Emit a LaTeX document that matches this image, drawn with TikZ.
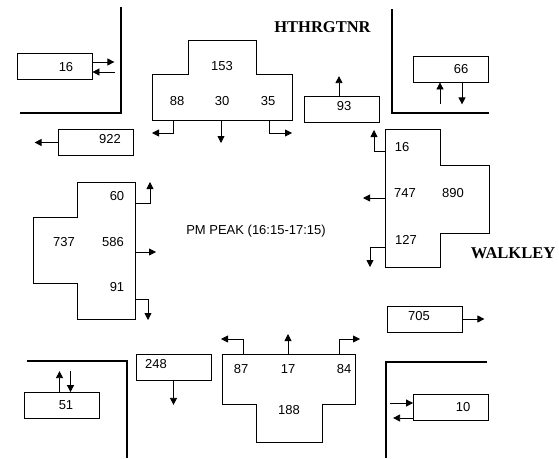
\documentclass[tikz,border=0pt]{standalone}
\usepackage{fontspec}
\setmainfont{Liberation Sans}
\newfontfamily\streetfont{Liberation Serif}
\usetikzlibrary{arrows.meta}

\begin{document}
\begin{tikzpicture}[x=1pt, y=-1pt, line width=0.8pt, >={Triangle[length=7pt,width=7pt]},
	every node/.style={font=\fontsize{13}{15}\selectfont, inner sep=0pt},
	box/.style={draw, rectangle, minimum width=75pt, minimum height=26pt},
	curb/.style={line width=2.6pt},
	street/.style={font=\fontsize{16.5}{18}\streetfont\bfseries}]
	\useasboundingbox (0,0) rectangle (559,458);
	
	% Curbs
	\draw[curb] (20,113) -- (121,113) -- (121,7);
	\draw[curb] (392,9) -- (392,113) -- (489,113);
	\draw[curb] (27,361) -- (127,361) -- (127,458);
	\draw[curb] (487,362) -- (386,362) -- (386,458);
	
	% Street names
	\node[street] (hthrgtnr) at (322.5,27.5) {HTHRGTNR};
	\node[street] (walkley) at (513,253.5) {WALKLEY};
	\node (peak) at (256,231) {PM PEAK (16:15-17:15)};
	
	% Corner boxes
	\node[box] (b16) at (54.5,66.5) {};
	\node (n16) at (66,67) {16};
	\node[box] (b922) at (95.5,142.5) {};
	\node (n922) at (110,139) {922};
	\node[box] (b66) at (451,69) {};
	\node (n66) at (461,69) {66};
	\node[box] (b93) at (341.5,109.5) {};
	\node (n93) at (344,106) {93};
	\node[box] (b705) at (424.5,319) {};
	\node (n705) at (419,316) {705};
	\node[box] (b248) at (173.5,367.5) {};
	\node (n248) at (156,364) {248};
	\node[box] (b51) at (61.5,405.5) {};
	\node (n51) at (66,405) {51};
	\node[box] (b10) at (451,407.5) {};
	\node (n10) at (463,407) {10};
	
	\draw[->] (b16.east) ++(0,-4.5) -- ++(22,0);
	\draw[<-] (b16.east) ++(0,5.5) -- ++(23,0);
	\draw[->] (b922.west) -- ++(-23,0);
	\draw[<-] (b66.south) ++(-11,0) -- ++(0,22);
	\draw[->] (b66.south) ++(11,0) -- ++(0,22);
	\draw[->] (b93.north) ++(-2.5,0) -- ++(0,-20);
	\draw[->] (b705.east) -- ++(22,0);
	\draw[->] (b248.south) -- ++(0,24);
	\draw[->] (b51.north) ++(-2,0) -- ++(0,-21);
	\draw[<-] (b51.north) ++(9,0) -- ++(0,-21);
	\draw[<-] (b10.west) ++(0,-4.5) -- ++(-23,0);
	\draw[->] (b10.west) ++(0,10.5) -- ++(-20,0);
	
	% Hthrgtnr approach
	\draw (188,40) -- (256,40) -- (256,74) -- (292,74) -- (292,120) -- (152,120) -- (152,74) -- (188,74) -- cycle;
	\node (h153) at (222,66) {153};
	\node (h88) at (177,101) {88};
	\node (h30) at (222,101) {30};
	\node (h35) at (268,101) {35};
	\coordinate (hL) at (173,120);
	\coordinate (hT) at (221,120);
	\coordinate (hR) at (269,120);
	\draw[->] (hL) |- ++(-21,13);
	\draw[->] (hT) -- ++(0,23);
	\draw[->] (hR) |- ++(23,13);
	
	% Walkley east approach
	\draw (385,129) -- (440,129) -- (440,165) -- (489,165) -- (489,233) -- (440,233) -- (440,267) -- (385,267) -- cycle;
	\node (e16) at (402,147) {16};
	\node (e747) at (405,193) {747};
	\node (e890) at (453,193) {890};
	\node (e127) at (406,240) {127};
	\coordinate (eR) at (385,151);
	\coordinate (eT) at (385,198);
	\coordinate (eL) at (385,247);
	\draw[->] (eR) -| ++(-11,-21);
	\draw[->] (eT) -- ++(-22,0);
	\draw[->] (eL) -| ++(-15,20);
	
	% Walkley west approach
	\draw (77,182) -- (135,182) -- (135,319) -- (77,319) -- (77,283) -- (33,283) -- (33,217) -- (77,217) -- cycle;
	\node (w60) at (117,196) {60};
	\node (w737) at (64,242) {737};
	\node (w586) at (113,242) {586};
	\node (w91) at (117,287) {91};
	\coordinate (wL) at (135,203);
	\coordinate (wT) at (135,252);
	\coordinate (wR) at (135,299);
	\draw[->] (wL) -| ++(15,-21);
	\draw[->] (wT) -- ++(21,0);
	\draw[->] (wR) -| ++(13,21);
	
	% South approach
	\draw (222,354) -- (355,354) -- (355,404) -- (322,404) -- (322,442) -- (256,442) -- (256,404) -- (222,404) -- cycle;
	\node (s87) at (241,369) {87};
	\node (s17) at (288,369) {17};
	\node (s84) at (344,369) {84};
	\node (s188) at (289,410) {188};
	\coordinate (sL) at (243,354);
	\coordinate (sT) at (288,354);
	\coordinate (sR) at (339,354);
	\draw[->] (sL) |- ++(-22,-15);
	\draw[->] (sT) -- ++(0,-20);
	\draw[->] (sR) |- ++(21,-15);
\end{tikzpicture}
\end{document}
